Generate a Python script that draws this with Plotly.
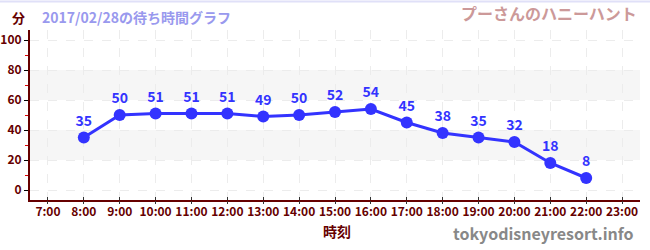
import plotly.graph_objects as go

hours = [8, 9, 10, 11, 12, 13, 14, 15, 16, 17, 18, 19, 20, 21, 22]
waits = [35, 50, 51, 51, 51, 49, 50, 52, 54, 45, 38, 35, 32, 18, 8]
tick_hours = list(range(7, 24))
tick_labels = [f"{h}:00" for h in tick_hours]
y_ticks = [0, 20, 40, 60, 80, 100]

FONT = "Noto Sans CJK JP"
DARK = "#660000"
BLUE = "#3333ff"

fig = go.Figure()
fig.add_trace(go.Scatter(
    x=hours, y=waits, mode="lines+markers+text",
    line=dict(color=BLUE, width=3),
    marker=dict(color=BLUE, size=12),
    text=[str(v) for v in waits], textposition="top center",
    textfont=dict(family=FONT, size=14, color=BLUE, weight="bold"),
    cliponaxis=False, hoverinfo="skip",
))
# invisible trace to anchor the secondary x axis (tick marks below the axis line)
fig.add_trace(go.Scatter(x=[hours[0]], y=[waits[0]], xaxis="x2", mode="markers",
                         marker=dict(opacity=0), hoverinfo="skip"))

for lo, hi in [(20, 40), (60, 80)]:
    fig.add_shape(type="rect", xref="paper", yref="y", x0=0, x1=1, y0=lo, y1=hi,
                  fillcolor="#f6f6f6", line_width=0, layer="below")

fig.add_shape(type="line", xref="paper", yref="paper", x0=-0.05, x1=1.02, y0=1.168, y1=1.168,
              line=dict(color="#e0e0f8", width=2))

fig.update_layout(
    width=650, height=250,
    margin=dict(l=30, r=10, t=30, b=50),
    plot_bgcolor="white", paper_bgcolor="white",
    showlegend=False,
    font=dict(family=FONT, color=DARK),
    xaxis=dict(
        range=[6.5, 23.5], tickvals=tick_hours, ticktext=tick_labels,
        automargin=False,
        showline=True, linecolor=DARK, linewidth=2,
        ticks="inside", ticklen=3, tickcolor="#333333",
        showgrid=True, gridcolor="#ececec", griddash="dash", gridwidth=1,
        tickfont=dict(family=FONT, size=12, color=DARK, weight="bold"),
        zeroline=False,
    ),
    xaxis2=dict(
        range=[6.5, 23.5], tickvals=tick_hours, overlaying="x", side="bottom",
        automargin=False, showticklabels=False, showgrid=False, showline=False,
        ticks="outside", ticklen=3, tickcolor="#333333", zeroline=False,
    ),
    yaxis=dict(
        range=[-6.67, 106.67], tickvals=y_ticks,
        automargin=False,
        showline=True, linecolor=DARK, linewidth=2,
        ticks="outside", ticklen=4, tickcolor="#000000",
        showgrid=True, gridcolor="#ececec", griddash="dash", gridwidth=1,
        tickfont=dict(family=FONT, size=12, color=DARK, weight="bold"),
        zeroline=False,
        minor=dict(dtick=10, tick0=0, ticks="outside", ticklen=3, tickcolor="#dd0000", showgrid=False),
    ),
    annotations=[
        dict(text="分", xref="paper", yref="paper", x=-0.005, y=1.076, xanchor="right", yanchor="middle",
             showarrow=False, font=dict(family=FONT, size=13, color=DARK, weight="bold")),
        dict(text="2017/02/28の待ち時間グラフ", xref="paper", yref="paper", x=0.016, y=1.076,
             xanchor="left", yanchor="middle", showarrow=False,
             font=dict(family=FONT, size=14, color="#9999ee", weight="bold")),
        dict(text="プーさんのハニーハント", xref="paper", yref="paper", x=0.998, y=1.10,
             xanchor="right", yanchor="middle", showarrow=False,
             font=dict(family=FONT, size=16, color="#cc9999", weight="bold")),
        dict(text="時刻", xref="paper", yref="paper", x=0.503, y=-0.18,
             xanchor="center", yanchor="middle", showarrow=False,
             font=dict(family=FONT, size=14, color=DARK, weight="bold")),
        dict(text="tokyodisneyresort.info", xref="paper", yref="paper", x=0.993, y=-0.194,
             xanchor="right", yanchor="middle", showarrow=False,
             font=dict(family=FONT, size=16, color="#888888", weight="bold")),
    ],
)

fig.write_html("out.html", config={"displayModeBar": False},
               post_script="document.body.style.margin='0';document.body.style.overflow='hidden';")
